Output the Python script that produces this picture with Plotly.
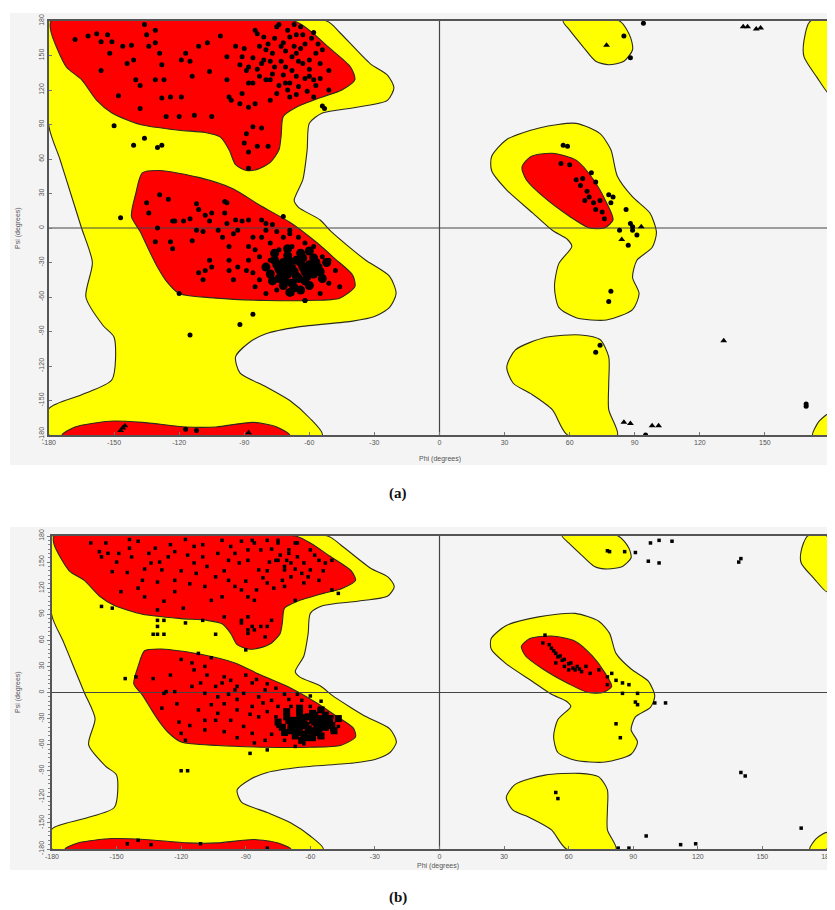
import plotly.graph_objects as go

# ---------------- region boundaries (phi, psi) shared by both plots ----------------
YELLOW_MAIN = [(-180, 180), (-52, 180), (-46, 170), (-32, 143), (-24, 133), (-21, 122), (-24, 111),
               (-38, 105), (-54, 100), (-60, 91), (-61, 68), (-63, 42), (-67, 24), (-65, 18), (-55, 7),
               (-50, -3), (-42, -16), (-34, -28), (-23, -42), (-20, -57), (-23, -69), (-30, -77),
               (-40, -81), (-65, -86), (-80, -92), (-88, -100), (-94, -112), (-92, -126), (-80, -138),
               (-69, -150), (-60, -165), (-54, -180), (-180, -180), (-180, -157), (-165, -145),
               (-151, -132), (-150, -95), (-155, -85), (-163, -60), (-160, -30), (-165, 0), (-170, 30),
               (-175, 60), (-180, 88)]
RED_BETA = [(-179, 180), (-67, 180), (-60, 172), (-51, 157), (-41, 140), (-39, 129), (-45, 120), (-54, 114),
            (-66, 105), (-72, 97), (-73, 80), (-74, 68), (-78, 57), (-84, 51), (-89, 50), (-94, 55), (-97, 68),
            (-101, 79), (-108, 83), (-120, 85), (-138, 90), (-151, 100), (-158, 111), (-165, 129),
            (-172, 140), (-179, 170)]
RED_ALPHA = [(-137, 48), (-129, 50), (-111, 44), (-95, 34), (-83, 20), (-69, 5), (-57, -12), (-48, -27),
             (-40, -41), (-39, -51), (-46, -61), (-60, -63), (-80, -63), (-103, -61), (-120, -57),
             (-126, -46), (-130, -34), (-134, -19), (-138, -3), (-142, 10), (-140, 30)]
RED_BOTTOM = [(-174, -180), (-168, -173), (-152, -168), (-137, -169), (-117, -173), (-103, -173),
              (-86, -169), (-75, -173), (-69, -180)]
YELLOW_LALPHA = [(24, 62), (31, 77), (46, 87), (63, 91), (74, 82), (79, 68), (82, 45), (89, 27), (97, 13),
                 (100, -4), (98, -17), (91, -28), (89, -43), (92, -57), (89, -71), (77, -80), (63, -78),
                 (55, -69), (53, -51), (55, -31), (61, -16), (59, -10), (52, -2), (43, 13), (31, 33), (24, 50)]
RED_LALPHA = [(38, 53), (42, 62), (52, 65), (63, 59), (71, 42), (77, 22), (80, 7), (76, 0), (69, 0),
              (60, 10), (48, 27), (40, 42)]
YELLOW_TOP_MID = [(57, 180), (83, 180), (88, 166), (89, 155), (85, 145), (78, 142), (72, 145), (66, 158),
                  (60, 172)]
YELLOW_BOTTOM_MID = [(31, -121), (35, -106), (49, -95), (65, -93), (74, -97), (78, -112), (78, -135),
                     (78, -158), (82, -180), (59, -180), (52, -158), (42, -144), (34, -135)]
YELLOW_TOP_RIGHT = [(171, 180), (180, 180), (180, 116), (174, 131), (168, 149), (168, 163)]
YELLOW_BOTTOM_RIGHT = [(180, -161), (180, -180), (172, -180), (175, -168)]

# ---------------- tick labels ----------------
TICKS = [-180, -150, -120, -90, -60, -30, 0, 30, 60, 90, 120, 150, 180]
TICK_TEXT = [str(t) for t in TICKS]

# ---------------- plot (a) residues ----------------
A_BETA = [(-168, 164), (-162, 167), (-158, 169), (-153, 168), (-156, 162), (-151, 162), (-152, 152),
          (-156, 137), (-148, 115), (-146, 158), (-142, 159), (-144, 143), (-141, 146), (-140, 129),
          (-138, 124), (-138, 104), (-136, 177), (-135, 168), (-134, 158), (-131, 172), (-131, 161),
          (-129, 152), (-128, 142), (-131, 129), (-127, 129), (-128, 113), (-124, 114), (-126, 97),
          (-120, 97), (-119, 114), (-119, 146), (-117, 152), (-115, 145), (-114, 132), (-113, 98),
          (-111, 158), (-107, 161), (-106, 136), (-105, 97), (-101, 167), (-98, 149), (-98, 129),
          (-97, 114), (-92, 142), (-90, 156), (-89, 137), (-86, 126), (-84, 169), (-83, 158), (-81, 146),
          (-80, 129), (-78, 111), (-75, 175), (-73, 158), (-71, 140), (-71, 126), (-69, 166), (-68, 149),
          (-66, 132), (-89, 82), (-86, 88), (-82, 87), (-90, 74), (-88, 66), (-84, 71), (-79, 71),
          (-88, 52), (-96, 111), (-92, 108), (-88, 105), (-85, 172), (-81, 166), (-74, 177), (-72, 161),
          (-77, 152), (-66, 152), (-63, 143), (-60, 146), (-57, 152), (-54, 155), (-55, 143), (-51, 137),
          (-58, 129), (-65, 123), (-51, 120), (-58, 114), (-69, 114), (-75, 117), (-78, 129), (-83, 132),
          (-88, 126), (-85, 108), (-91, 117), (-94, 158), (-91, 149), (-88, 140), (-82, 143),
          (-70, 172), (-66, 168), (-62, 160), (-64, 156), (-59, 165), (-68, 137), (-62, 130), (-57, 124),
          (-72, 133), (-76, 140), (-79, 160), (-86, 148), (-64, 175), (-60, 132), (-55, 130), (-67, 158),
          (-73, 145), (-61, 119), (-70, 120), (-78, 145), (-54, 106), (-53, 104),
          (-71, 154), (-65, 145), (-60, 138), (-63, 168), (-76, 165), (-69, 126), (-74, 124), (-56, 160),
          (-80, 155), (-67, 177), (-58, 170), (-84, 138), (-77, 134), (-66, 116)]
A_ALPHA = [(-129, 29), (-125, 25), (-130, 0), (-131, -12), (-124, -12), (-123, -18), (-122, 6), (-118, 6),
           (-115, 8), (-112, 21), (-111, 16), (-108, 11), (-106, 6), (-105, 13), (-112, -2), (-114, -11),
           (-109, -3), (-99, 23), (-102, -2), (-100, -8), (-98, 4), (-97, -16), (-106, -28), (-108, -37),
           (-109, -45), (-111, -39), (-105, -34), (-97, -28), (-97, -37), (-93, -34), (-95, -45),
           (-120, -57), (-94, 7), (-91, 6), (-88, 7), (-86, -8), (-93, -2), (-95, -5), (-88, -16),
           (-85, -19), (-82, 7), (-82, -8), (-80, -2), (-77, 3), (-75, -3), (-78, -13), (-83, -25),
           (-88, -28), (-86, -39), (-89, -37), (-83, -45), (-85, -51), (-72, -8), (-69, -2), (-65, -8),
           (-62, -13), (-58, -16), (-54, -25), (-51, -28), (-48, -37), (-46, -51), (-51, -48), (-55, -57),
           (-62, -63), (-68, -57), (-75, -54), (-80, -57), (-74, -42), (-78, -28), (-74, -19), (-68, -16),
           (-57, -37), (-54, -42), (-135, 22), (-134, 13), (-98, 22), (-99, 13), (-123, 6), (-80, 4),
           (-72, 10), (-69, -5)]
A_BLOB = [(-68, -35), (-72, -30), (-64, -30), (-70, -40), (-66, -42), (-62, -38), (-74, -36), (-60, -32),
          (-76, -28), (-58, -40), (-70, -24), (-64, -22), (-68, -48), (-62, -46), (-74, -44), (-56, -34),
          (-78, -40), (-66, -28), (-72, -50), (-60, -50), (-58, -26), (-76, -22), (-70, -18), (-64, -54),
          (-54, -44), (-80, -34), (-67, -38), (-63, -34), (-71, -34), (-65, -44), (-69, -29), (-61, -42),
          (-73, -40), (-75, -32), (-59, -36), (-67, -52), (-71, -46), (-57, -30), (-63, -26), (-69, -56),
          (-77, -46), (-55, -38), (-52, -30), (-60, -20)]
A_OTHER = [(-150, 89), (-141, 72), (-136, 78), (-130, 70), (-128, 72), (-147, 9), (-115, -93), (-92, -84),
           (-86, -75), (-62, -63), (-117, -175), (-112, -176)]
A_LEFT = [(57, 72), (59, 71), (56, 56), (60, 55), (70, 48), (63, 42), (66, 43), (72, 40), (65, 37), (68, 32),
          (69, 27), (67, 24), (71, 22), (74, 24), (78, 29), (80, 27), (79, 22), (72, 16), (75, 14), (76, 8),
          (86, 16), (88, 4), (89, 1), (83, -2), (87, -15), (91, -6), (89, -2), (79, -55), (78, -64),
          (74, -102), (72, -108), (94, 178), (85, 167), (88, 148), (169, -153), (169, -155), (95, -180)]
A_GLY = [(-146, -174), (-145, -172), (-147, -176), (-88, -178), (77, 159), (140, 175), (142, 175),
         (146, 173), (148, 174), (84, -10), (93, 1), (131, -98), (85, -169), (88, -170), (98, -172),
         (101, -172)]

# ---------------- plot (b) residues ----------------
B_BETA = [(-162, 172), (-158, 162), (-157, 156), (-154, 160), (-149, 160), (-152, 139), (-143, 156),
          (-144, 166), (-140, 174), (-135, 160), (-132, 166), (-134, 149), (-129, 141), (-126, 156),
          (-123, 162), (-123, 129), (-117, 158), (-114, 168), (-114, 149), (-113, 137), (-110, 156),
          (-131, 127), (-138, 129), (-148, 116), (-137, 110), (-131, 95), (-119, 97), (-123, 116),
          (-109, 122), (-106, 106), (-101, 110), (-104, 133), (-98, 129), (-95, 122), (-92, 118),
          (-89, 110), (-93, 149), (-98, 152), (-101, 175), (-97, 168), (-92, 174), (-86, 172), (-83, 164),
          (-89, 152), (-84, 141), (-80, 126), (-86, 106), (-76, 152), (-72, 141), (-70, 160), (-67, 172),
          (-75, 175), (-72, 122), (-67, 106), (-75, 152), (-72, 145), (-69, 149), (-66, 156), (-63, 149),
          (-60, 141), (-56, 152), (-53, 149), (-64, 137), (-69, 133), (-73, 129), (-63, 126), (-56, 129),
          (-50, 152), (-60, 164), (-70, 164), (-66, 172), (-75, 172), (-80, 175), (-87, 175), (-89, 164),
          (-50, 118), (-47, 114), (-150, 150), (-145, 138), (-140, 120), (-128, 105), (-120, 140),
          (-116, 125), (-108, 145), (-103, 160), (-100, 140), (-95, 160), (-90, 128), (-85, 118),
          (-80, 140), (-78, 165), (-74, 158), (-58, 158), (-54, 140), (-61, 133), (-67, 142), (-71, 152),
          (-79, 150), (-82, 132), (-77, 120), (-130, 150), (-137, 142), (-125, 170), (-110, 170),
          (-118, 176), (-144, 176), (-155, 172), (-92, 80), (-89, 72), (-86, 72), (-80, 76), (-78, 83),
          (-90, 49), (-92, 83), (-87, 76), (-89, 68), (-83, 76), (-81, 64), (-89, 87), (-100, 87)]
B_ALPHA = [(-128, -1), (-123, 1), (-115, 34), (-114, 26), (-109, 30), (-108, 20), (-111, 11), (-109, -1),
           (-104, 7), (-103, -5), (-100, -13), (-101, 11), (-97, 14), (-94, 7), (-91, -1), (-87, 11),
           (-84, -5), (-81, 3), (-78, -9), (-75, -16), (-87, -16), (-94, -20), (-97, -32), (-103, -24),
           (-109, -32), (-109, -43), (-120, -47), (-121, -34), (-122, -13), (-127, 1), (-129, -18),
           (-118, -55), (-91, -39), (-87, -47), (-84, -28), (-81, -55), (-75, -39), (-72, -55), (-69, -16),
           (-64, -9), (-60, -16), (-56, -20), (-53, -32), (-50, -43), (-56, -51), (-63, -59), (-67, -62),
           (-50, -28), (-47, -39), (-104, -32), (-100, 18), (-95, 3), (-115, 7), (-90, 20), (-85, 15),
           (-80, 10), (-76, 5), (-72, -2), (-82, -12), (-88, -25), (-94, -8), (-98, -2), (-106, -14),
           (-112, -20), (-116, -38), (-100, -45), (-94, -52), (-86, -58), (-78, -48), (-80, -22),
           (-76, -28), (-70, -8), (-66, -2), (-60, -4), (-55, -10), (-106, 40), (-120, 38), (-125, 20),
           (-112, 45)]
B_BLOB = [(-63, -36), (-67, -32), (-59, -32), (-65, -40), (-61, -42), (-57, -38), (-69, -38), (-55, -30),
          (-71, -28), (-53, -40), (-65, -24), (-59, -24), (-63, -48), (-57, -46), (-69, -44), (-51, -34),
          (-73, -40), (-61, -28), (-67, -50), (-55, -50), (-53, -26), (-71, -22), (-65, -18), (-59, -52),
          (-49, -44), (-75, -34), (-62, -38), (-58, -34), (-66, -34), (-60, -44), (-64, -29), (-56, -42),
          (-68, -40), (-70, -32), (-54, -36), (-62, -52), (-66, -46), (-52, -30), (-58, -26), (-64, -55),
          (-72, -46), (-50, -38), (-47, -30), (-55, -20)]
B_OTHER = [(-157, 99), (-152, 97), (-131, 83), (-128, 83), (-131, 76), (-118, 80), (-110, 83), (-133, 67),
           (-131, 67), (-128, 67), (-104, 67), (-146, 16), (-141, 18), (-133, 16), (-88, -70), (-80, -66),
           (-120, -90), (-117, -90), (-145, -174), (-140, -170), (-134, -175), (-111, -174), (-80, -179)]
B_LEFT = [(49, 66), (48, 57), (52, 51), (54, 45), (55, 41), (57, 37), (58, 30), (60, 26), (63, 26), (61, 34),
          (64, 30), (68, 30), (54, 34), (74, 26), (78, 18), (80, 22), (82, 14), (85, 11), (88, 9), (78, 9),
          (85, -1), (92, -1), (91, -11), (92, -14), (100, -12), (105, -12), (82, -36), (84, -52),
          (51, 55), (53, 48), (56, 42), (58, 38), (60, 33), (62, 28), (65, 27), (66, 24), (70, 22),
          (54, -115), (55, -122), (140, -92), (142, -96), (168, -156), (96, -165), (83, -179), (88, -179),
          (112, -175), (119, -174), (78, 163), (79, 162), (86, 162), (91, 161), (98, 172), (102, 175),
          (108, 174), (97, 151), (102, 149), (140, 154), (139, 150)]

# page layout (pixel positions on the 835x910 page; the page body adds an 8px margin)
OFF = 8
W, H = 835 - OFF, 910 - OFF
PANELS = {
    "a": dict(x0=49, x1=830, y0=21, y1=435, bg=(10, 13, 465)),
    "b": dict(x0=52, x1=827, y0=536, y1=849, bg=(10, 527, 870)),
}


def px(x):
    return (x - OFF) / W


def py(y):
    return 1 - (y - OFF) / H


fig = go.Figure()

OUTLINE = "#2a2a20"


def add_poly(pts, color, xa, ya):
    xs = [p[0] for p in pts] + [pts[0][0]]
    ys = [p[1] for p in pts] + [pts[0][1]]
    fig.add_trace(go.Scatter(x=xs, y=ys, mode="lines", fill="toself", fillcolor=color,
                             line=dict(color=OUTLINE, width=1.1, shape="spline", smoothing=0.7),
                             hoverinfo="skip", showlegend=False, xaxis=xa, yaxis=ya))


def add_pts(pts, xa, ya, symbol, size):
    fig.add_trace(go.Scatter(x=[p[0] for p in pts], y=[p[1] for p in pts], mode="markers",
                             marker=dict(color="black", size=size, symbol=symbol, line=dict(width=0)),
                             hoverinfo="skip", showlegend=False, xaxis=xa, yaxis=ya))


for xa, ya in (("x", "y"), ("x2", "y2")):
    for poly in (YELLOW_MAIN, YELLOW_LALPHA, YELLOW_TOP_MID, YELLOW_BOTTOM_MID, YELLOW_TOP_RIGHT,
                 YELLOW_BOTTOM_RIGHT):
        add_poly(poly, "#FFFF00", xa, ya)
    for poly in (RED_BETA, RED_ALPHA, RED_BOTTOM, RED_LALPHA):
        add_poly(poly, "#FF0000", xa, ya)
    fig.add_trace(go.Scatter(x=[-180, 180], y=[0, 0], mode="lines", line=dict(color="#444", width=1.2),
                             hoverinfo="skip", showlegend=False, xaxis=xa, yaxis=ya))
    fig.add_trace(go.Scatter(x=[0, 0], y=[-180, 180], mode="lines", line=dict(color="#444", width=1.2),
                             hoverinfo="skip", showlegend=False, xaxis=xa, yaxis=ya))

add_pts(A_BETA + A_ALPHA + A_OTHER + A_LEFT, "x", "y", "circle", 5)
add_pts(A_BLOB, "x", "y", "circle", 9)
add_pts(A_GLY, "x", "y", "triangle-up", 6)

add_pts(B_BETA + B_ALPHA + B_OTHER + B_LEFT, "x2", "y2", "square", 3.5)
add_pts(B_BLOB, "x2", "y2", "square", 7)

tickfont = dict(size=7, color="#555", family="Liberation Sans Narrow, Liberation Sans, Arial")


def axis_common():
    return dict(range=[-180, 180], tickmode="array", tickvals=TICKS, ticktext=TICK_TEXT, showgrid=False,
                zeroline=False, showline=True, linecolor="#555", linewidth=1.5, mirror=True,
                tickfont=tickfont, tickcolor="#777", ticklen=3, fixedrange=True, automargin=False)


def dom_x(p):
    return [px(p["x0"]), px(p["x1"])]


def dom_y(p):
    return [py(p["y1"]), py(p["y0"])]


pa, pb = PANELS["a"], PANELS["b"]
fig.update_layout(
    width=W, height=H, margin=dict(l=0, r=0, t=0, b=0, pad=0), autosize=False,
    paper_bgcolor="white", plot_bgcolor="#F4F4F4", showlegend=False,
    xaxis=dict(domain=dom_x(pa), anchor="y", ticks="inside", **axis_common()),
    yaxis=dict(domain=dom_y(pa), anchor="x", ticks="inside", tickangle=-90, **axis_common()),
    xaxis2=dict(domain=dom_x(pb), anchor="y2", ticks="inside", **axis_common()),
    yaxis2=dict(domain=dom_y(pb), anchor="x2", ticks="outside", tickangle=-90,
                minor=dict(ticks="outside", dtick=5, ticklen=2, tickcolor="#888"), **axis_common()),
)

for key, p in PANELS.items():
    bx0, by0, by1 = p["bg"]
    fig.add_shape(type="rect", xref="paper", yref="paper", x0=px(bx0), x1=1, y0=py(by1), y1=py(by0),
                  fillcolor="#F4F4F4", line=dict(width=0), layer="below")

ann_font = dict(size=7, color="#555", family="Liberation Sans Narrow, Liberation Sans, Arial")
annotations = [
    dict(text="Phi (degrees)", x=px(440), y=py(459)),
    dict(text="Psi (degrees)", x=px(18), y=py(228), textangle=-90),
    dict(text="Phi (degrees)", x=px(438), y=py(866)),
    dict(text="Psi (degrees)", x=px(18), y=py(692), textangle=-90),
]
for a in annotations:
    fig.add_annotation(xref="paper", yref="paper", showarrow=False, font=ann_font,
                       xanchor="center", yanchor="middle", **a)

lab_font = dict(size=15, color="#111", family="Liberation Serif, Times New Roman, serif")
fig.add_annotation(text="<b>(a)</b>", xref="paper", yref="paper", x=px(398), y=py(493),
                   showarrow=False, font=lab_font, xanchor="center", yanchor="middle")
fig.add_annotation(text="<b>(b)</b>", xref="paper", yref="paper", x=px(398), y=py(897),
                   showarrow=False, font=lab_font, xanchor="center", yanchor="middle")

fig.write_html("out.html")
